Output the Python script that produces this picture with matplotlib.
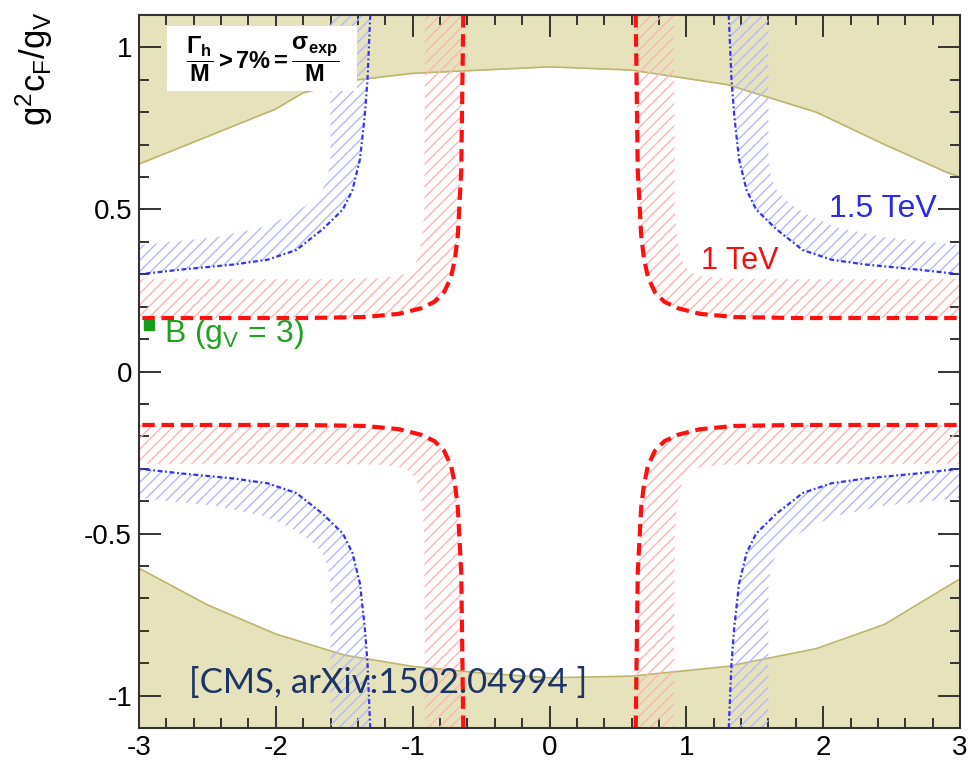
import numpy as np
import matplotlib
matplotlib.use("Agg")
import matplotlib.pyplot as plt
from matplotlib.patches import Rectangle
from matplotlib.ticker import MultipleLocator, FormatStrFormatter

plt.rcParams['font.family'] = ['Liberation Sans', 'DejaVu Sans']
plt.rcParams['mathtext.fontset'] = 'custom'
plt.rcParams['mathtext.rm'] = 'Liberation Sans'
plt.rcParams['mathtext.it'] = 'Liberation Sans:italic'
plt.rcParams['mathtext.bf'] = 'Liberation Sans:bold'
plt.rcParams['axes.unicode_minus'] = False
plt.rcParams['hatch.linewidth'] = 1.0

# width constraint region (khaki), top and bottom edges
khaki_top_x = [-3.0, -2.5, -2.0, -1.8, -1.4, -1.0, -0.5, 0.0, 0.6, 1.3, 1.95, 2.45, 2.9, 3.0]
khaki_top_y = [0.64, 0.725, 0.81, 0.86, 0.90, 0.92, 0.93, 0.94, 0.93, 0.885, 0.80, 0.70, 0.615, 0.60]
khaki_bot_x = [-3.0, -2.5, -2.0, -1.5, -1.0, -0.5, 0.0, 0.6, 1.3, 1.95, 2.45, 2.9, 3.0]
khaki_bot_y = [-0.607, -0.72, -0.81, -0.875, -0.91, -0.93, -0.945, -0.94, -0.91, -0.855, -0.78, -0.665, -0.64]

# 1 TeV limit (upper-right quadrant, mirrored to the others)
red_x = [0.63, 0.645, 0.67, 0.69, 0.72, 0.77, 0.84, 0.94, 1.1, 1.35, 1.8, 3.0]
red_y = [1.1, 0.62, 0.42, 0.35, 0.29, 0.245, 0.215, 0.195, 0.178, 0.168, 0.165, 0.165]
red_band_x = [0.91, 0.915, 0.93, 0.95, 0.98, 1.03, 1.1, 1.25, 1.6, 3.0]
red_band_y = [1.1, 0.5, 0.42, 0.37, 0.33, 0.305, 0.295, 0.288, 0.285, 0.285]

# 1.5 TeV limit
blue_x = [1.31, 1.33, 1.35, 1.385, 1.44, 1.51, 1.655, 1.85, 2.06, 2.31, 2.68, 3.0]
blue_y = [1.1, 0.9, 0.79, 0.655, 0.56, 0.50, 0.44, 0.375, 0.345, 0.33, 0.315, 0.30]
blue_band_x = [1.60, 1.60, 1.62, 1.66, 1.75, 1.9, 2.1, 2.43, 3.0]
blue_band_y = [1.1, 0.66, 0.60, 0.56, 0.52, 0.48, 0.445, 0.415, 0.39]

quadrants = [(1, 1), (-1, 1), (1, -1), (-1, -1)]

fig = plt.figure(figsize=(9.77, 7.62), dpi=100)
ax = fig.add_axes([139/977, 1-728/762, (960-139)/977, (728-15)/762])
ax.set_xlim(-3, 3)
ax.set_ylim(-1.1, 1.1)

khaki = '#e6e3bc'
ax.fill_between(khaki_top_x, khaki_top_y, 1.1, color=khaki, lw=0, zorder=1)
ax.plot(khaki_top_x, khaki_top_y, color='#bdb56a', lw=1.2, zorder=1.1)
ax.fill_between(khaki_bot_x, -1.1, khaki_bot_y, color=khaki, lw=0, zorder=1)
ax.plot(khaki_bot_x, khaki_bot_y, color='#bdb56a', lw=1.2, zorder=1.1)

for sx, sy in quadrants:
    for cx, cy, bx, by, hc, lc, ls, lw in [
            (red_x, red_y, red_band_x, red_band_y, '#ffb4b4', '#ff1010', (0, (3, 1.6)), 3.0),
            (blue_x, blue_y, blue_band_x, blue_band_y, '#b4b8ff', '#3030ff', (0, (2.2, 1.2, 0.8, 1.2)), 1.6)]:
        px = np.concatenate([np.array(cx) * sx, np.array(bx)[::-1] * sx])
        py = np.concatenate([np.array(cy) * sy, np.array(by)[::-1] * sy])
        ax.fill(px, py, facecolor='none', edgecolor=hc, hatch='///', lw=0, zorder=2)
        ax.plot(np.array(cx) * sx, np.array(cy) * sy, color=lc, ls=ls, lw=lw, zorder=3)

ax.add_patch(Rectangle((-2.795, 0.864), 1.388, 0.201, facecolor='white', edgecolor='none', zorder=4))
ax.text(-2.1, 0.963, r'$\mathbf{\dfrac{\Gamma_h}{M} > 7\% = \dfrac{\sigma_{exp}}{M}}$', fontsize=17,
        ha='center', va='center', zorder=5)

ax.text(2.44, 0.50, '1.5 TeV', color='#2a2ae8', fontsize=23, ha='center', va='center', zorder=5)
ax.text(1.39, 0.34, '1 TeV', color='#f01010', fontsize=22, ha='center', va='center', zorder=5)
ax.plot([-2.93], [0.145], 's', color='#1a9a1a', ms=7, zorder=5)
ax.text(-2.82, 0.09, r'B (g$_\mathrm{V}$ = 3)', color='#22a022', fontsize=23, ha='left',
        va='baseline', zorder=5)

ax.xaxis.set_major_locator(MultipleLocator(1))
ax.xaxis.set_minor_locator(MultipleLocator(0.2))
ax.yaxis.set_major_locator(MultipleLocator(0.5))
ax.yaxis.set_minor_locator(MultipleLocator(0.1))
ax.xaxis.set_major_formatter(FormatStrFormatter('%g'))
ax.yaxis.set_major_formatter(FormatStrFormatter('%g'))
ax.tick_params(which='both', direction='in', top=True, right=True, width=1.4, color='#333333')
ax.tick_params(which='major', length=16, labelsize=20, pad=5)
ax.tick_params(which='minor', length=7)
for sp in ax.spines.values():
    sp.set_linewidth(1.5)
    sp.set_color('#333333')
    sp.set_zorder(6)

fig.text(0.035, 0.985, r'g$^2$c$_\mathrm{F}$/g$_\mathrm{V}$', rotation=90, fontsize=25,
         ha='center', va='top')

fig.text(189/977, 1-683/762, '[CMS, arXiv:1502.04994 ]', color='#1d3466', fontsize=25,
         family=['Lato', 'DejaVu Sans'], ha='left', va='center', zorder=7)

fig.savefig('out.png', dpi=100)
